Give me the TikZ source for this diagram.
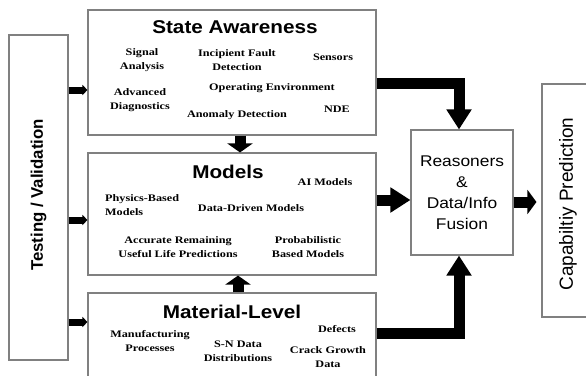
\documentclass[tikz,border=0pt]{standalone}
\usepackage{fontspec}
\setmainfont{Liberation Serif}
\newfontfamily\arialf{Liberation Sans}
\newfontfamily\arialw[FakeStretch=1.12]{Liberation Sans}
\newfontfamily\serifw[FakeStretch=1.22]{Liberation Serif}
\usetikzlibrary{arrows.meta,calc}
\begin{document}
\begin{tikzpicture}[x=1pt,y=-1pt,
  box/.style={draw=black!50,line width=1.1pt,fill=white,inner sep=0pt},
  lbl/.style={font=\serifw\fontsize{10}{14}\selectfont\bfseries,align=center,inner sep=0pt},
  ttl/.style={font=\arialw\fontsize{18.5}{20}\selectfont\bfseries,inner sep=0pt},
  bigarrow/.style={line width=11pt,-{Triangle[width=24pt,length=20pt]}},
  midarrow/.style={line width=11pt,-{Triangle[width=25pt,length=9pt]}},
  tvarrow/.style={line width=7pt,-{Triangle[width=10pt,length=5pt]}}
]
\useasboundingbox (0,0) rectangle (586,375);
\fill[white] (0,0) rectangle (586,375);

% boxes
\node[box,minimum width=288pt,minimum height=125pt] (sa) at (232,72.5) {};
\node[box,minimum width=288pt,minimum height=122pt] (mo) at (232,214) {};
\node[box,minimum width=288pt,minimum height=92pt] (ml) at (232,339) {};
\node[box,minimum width=59pt,minimum height=325pt] (tv) at (38.5,197.5) {};
\node[box,minimum width=102pt,minimum height=125pt] (re) at (462,192.5) {};
\node[box,minimum width=54pt,minimum height=233pt] (cp) at (569,200.5) {};

% box texts
\node[font=\arialf\fontsize{16.8}{18}\selectfont\bfseries,rotate=90,inner sep=0pt] (tvt) at (38.5,195) {Testing / Validation};
\node[font=\arialf\fontsize{19}{20}\selectfont,rotate=90,inner sep=0pt] (cpt) at (568,204) {Capabiltiy Prediction};
\node[font=\arialw\fontsize{15.5}{21}\selectfont,align=center,inner sep=0pt] (ret) at (462,193) {Reasoners\\\&\\Data/Info\\Fusion};

% State Awareness
\node[ttl] (t1) at (235,27) {State Awareness};
\node[lbl] (a1) at (142,60) {Signal\\Analysis};
\node[lbl] (a2) at (237,60) {Incipient Fault\\Detection};
\node[lbl] (a3) at (333,57) {Sensors};
\node[lbl] (a4) at (140,100) {Advanced\\Diagnostics};
\node[lbl] (a5) at (272,88) {Operating Environment};
\node[lbl] (a6) at (237,115) {Anomaly Detection};
\node[lbl] (a7) at (337,109) {NDE};

% Models
\node[ttl] (t2) at (228,172) {Models};
\node[lbl] (b1) at (325,182) {AI Models};
\node[lbl,align=left,anchor=west] (b2) at (105,205.5) {Physics-Based\\Models};
\node[lbl] (b3) at (251,208) {Data-Driven Models};
\node[lbl] (b4) at (178,247.5) {Accurate Remaining\\Useful Life Predictions};
\node[lbl] (b5) at (308,247.5) {Probabilistic\\Based Models};

% Material-Level
\node[ttl] (t3) at (232,312) {Material-Level};
\node[lbl] (c1) at (150,341.5) {Manufacturing\\Processes};
\node[lbl] (c2) at (238,351.5) {S-N Data\\Distributions};
\node[lbl] (c3) at (337,329) {Defects};
\node[lbl] (c4) at (328,357.5) {Crack Growth\\Data};

% helper coordinates
\coordinate (y1) at (0,90);
\coordinate (y2) at (0,220);
\coordinate (y3) at (0,322);
\coordinate (ysa) at (0,83);
\coordinate (ymo) at (0,200);
\coordinate (yml) at (0,333);
\coordinate (xr) at (459,0);
\coordinate (xsm) at (240,0);
\coordinate (xmm) at (238,0);
\coordinate (ycp) at (0,202);

% connectors
\draw[tvarrow] (tv.east |- y1) -- (sa.west |- y1);
\draw[tvarrow] (tv.east |- y2) -- (mo.west |- y2);
\draw[tvarrow] (tv.east |- y3) -- (ml.west |- y3);

\draw[midarrow] (sa.south -| xsm) -- (mo.north -| xsm);
\draw[midarrow] (ml.north -| xmm) -- (mo.south -| xmm);

\draw[bigarrow] (sa.east |- ysa) -| (re.north -| xr);
\draw[bigarrow] (mo.east |- ymo) -- (re.west |- ymo);
\draw[bigarrow] (ml.east |- yml) -| (re.south -| xr);
\draw[line width=11pt,-{Triangle[width=24pt,length=9pt]}] (re.east |- ycp) -- ([xshift=-5pt]cp.west |- ycp);
\end{tikzpicture}
\end{document}
